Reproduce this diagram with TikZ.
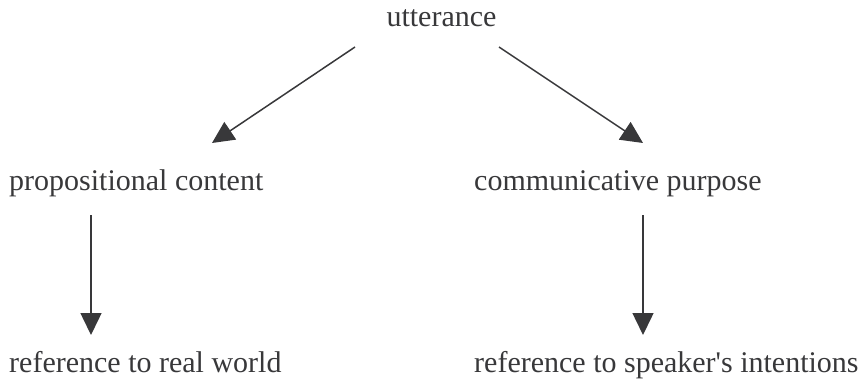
\documentclass[tikz,border=0pt]{standalone}
\usepackage{fontspec}
\setmainfont{Liberation Serif}
\usepackage{tikz}
\usetikzlibrary{arrows.meta}

\definecolor{inkgray}{HTML}{38383A}

\begin{document}
\begin{tikzpicture}[x=1pt,y=1pt, every node/.style={inner sep=0pt, text=inkgray, font=\fontsize{30}{36}\selectfont},
	link/.style={draw=inkgray, line width=1.5pt, -{Triangle[length=22pt,width=21pt]}}]
    \useasboundingbox (0,0) rectangle (861,-382);
    \node[anchor=base] (utt) at (441.5,-27) {utterance};
    \node[anchor=base west] (prop) at (9,-190) {propositional content};
    \node[anchor=base west] (comm) at (474,-190) {communicative purpose};
    \node[anchor=base west] (real) at (9,-372) {reference to real world};
    \node[anchor=base west] (spk) at (474,-372) {reference to speaker\textquotesingle s intentions};
    \draw[link] ([xshift=-86.5pt,yshift=-20pt]utt.base) -- ([xshift=203pt,yshift=47pt]prop.base west);
    \draw[link] ([xshift=57.5pt,yshift=-20pt]utt.base) -- ([xshift=169pt,yshift=47pt]comm.base west);
    \draw[link] ([xshift=82pt,yshift=-25pt]prop.base west) -- ([xshift=82pt,yshift=37pt]real.base west);
    \draw[link] ([xshift=169pt,yshift=-25pt]comm.base west) -- ([xshift=169pt,yshift=37pt]spk.base west);
  \end{tikzpicture}
\end{document}
